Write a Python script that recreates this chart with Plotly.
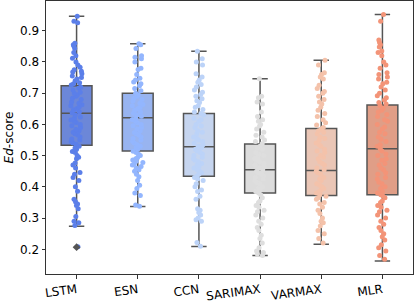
import plotly.graph_objects as go

categories = ["LSTM", "ESN", "CCN", "SARIMAX", "VARMAX", "MLR"]

# box statistics
q1 = [0.533, 0.515, 0.434, 0.380, 0.372, 0.375]
median = [0.636, 0.621, 0.528, 0.455, 0.452, 0.522]
q3 = [0.724, 0.700, 0.635, 0.537, 0.587, 0.662]
lower_whisker = [0.274, 0.337, 0.209, 0.180, 0.216, 0.163]
upper_whisker = [0.946, 0.858, 0.834, 0.746, 0.805, 0.952]
outlier_cat = ["LSTM"]
outlier_val = [0.207]

# individual scores (estimated from the strip points)
lstm_pts = [0.946, 0.93, 0.925, 0.86, 0.855, 0.85, 0.843, 0.83, 0.82, 0.812, 0.80, 0.79,
            0.783, 0.775, 0.77, 0.768, 0.762, 0.755, 0.75, 0.745, 0.74, 0.733, 0.73, 0.726,
            0.72, 0.716, 0.71, 0.703, 0.70, 0.694, 0.69, 0.684, 0.68, 0.672, 0.668, 0.663,
            0.66, 0.655, 0.65, 0.646, 0.64, 0.637, 0.63, 0.624, 0.62, 0.614, 0.61, 0.606,
            0.60, 0.596, 0.59, 0.584, 0.58, 0.575, 0.57, 0.566, 0.56, 0.553, 0.55, 0.545,
            0.54, 0.536, 0.53, 0.524, 0.52, 0.513, 0.51, 0.50, 0.495, 0.49, 0.476, 0.47,
            0.46, 0.446, 0.44, 0.43, 0.42, 0.40, 0.386, 0.36, 0.352, 0.345, 0.34, 0.33,
            0.305, 0.29, 0.285, 0.276, 0.208]
esn_pts = [0.858, 0.855, 0.843, 0.82, 0.815, 0.81, 0.80, 0.78, 0.776, 0.76, 0.748, 0.742,
           0.736, 0.73, 0.724, 0.715, 0.708, 0.70, 0.695, 0.69, 0.684, 0.68, 0.675, 0.668,
           0.664, 0.66, 0.654, 0.65, 0.645, 0.64, 0.636, 0.63, 0.626, 0.62, 0.616, 0.61,
           0.605, 0.60, 0.596, 0.59, 0.585, 0.58, 0.574, 0.57, 0.566, 0.56, 0.555, 0.55,
           0.546, 0.54, 0.535, 0.53, 0.525, 0.52, 0.514, 0.51, 0.505, 0.50, 0.494, 0.49,
           0.486, 0.482, 0.478, 0.474, 0.47, 0.465, 0.46, 0.455, 0.45, 0.44, 0.432, 0.42,
           0.405, 0.395, 0.38, 0.372, 0.342, 0.338]
ccn_pts = [0.834, 0.81, 0.80, 0.79, 0.762, 0.752, 0.742, 0.735, 0.728, 0.72, 0.71, 0.703,
           0.696, 0.69, 0.682, 0.676, 0.67, 0.66, 0.655, 0.648, 0.64, 0.635, 0.63, 0.62,
           0.615, 0.61, 0.60, 0.595, 0.59, 0.58, 0.575, 0.57, 0.56, 0.555, 0.55, 0.545,
           0.54, 0.535, 0.53, 0.525, 0.52, 0.515, 0.51, 0.505, 0.50, 0.495, 0.49, 0.485,
           0.48, 0.475, 0.47, 0.465, 0.46, 0.455, 0.45, 0.445, 0.44, 0.435, 0.43, 0.425,
           0.42, 0.41, 0.40, 0.39, 0.385, 0.37, 0.36, 0.33, 0.325, 0.318, 0.31, 0.30,
           0.295, 0.29, 0.222, 0.21]
sarimax_pts = [0.746, 0.69, 0.685, 0.672, 0.665, 0.64, 0.625, 0.615, 0.61, 0.60, 0.595,
               0.585, 0.575, 0.565, 0.56, 0.55, 0.545, 0.538, 0.53, 0.525, 0.52, 0.51,
               0.505, 0.50, 0.495, 0.49, 0.485, 0.48, 0.475, 0.47, 0.465, 0.46, 0.455,
               0.45, 0.445, 0.44, 0.435, 0.43, 0.425, 0.42, 0.415, 0.41, 0.40, 0.395,
               0.39, 0.385, 0.38, 0.375, 0.365, 0.355, 0.35, 0.34, 0.335, 0.325, 0.32,
               0.31, 0.30, 0.29, 0.28, 0.27, 0.26, 0.245, 0.235, 0.22, 0.205, 0.195,
               0.19, 0.185, 0.18]
varmax_pts = [0.805, 0.79, 0.765, 0.76, 0.752, 0.745, 0.725, 0.715, 0.705, 0.70, 0.69,
              0.68, 0.672, 0.665, 0.655, 0.645, 0.635, 0.625, 0.615, 0.605, 0.598, 0.59,
              0.585, 0.58, 0.575, 0.57, 0.56, 0.555, 0.55, 0.54, 0.535, 0.53, 0.52,
              0.515, 0.51, 0.50, 0.495, 0.49, 0.48, 0.475, 0.47, 0.46, 0.455, 0.45,
              0.445, 0.44, 0.43, 0.425, 0.42, 0.41, 0.405, 0.40, 0.395, 0.39, 0.385,
              0.38, 0.375, 0.37, 0.365, 0.36, 0.35, 0.345, 0.335, 0.325, 0.315, 0.30,
              0.29, 0.285, 0.275, 0.26, 0.25, 0.235, 0.22]
mlr_pts = [0.952, 0.93, 0.87, 0.862, 0.855, 0.848, 0.835, 0.83, 0.82, 0.80, 0.79, 0.78,
           0.765, 0.76, 0.752, 0.745, 0.735, 0.73, 0.72, 0.71, 0.70, 0.692, 0.685, 0.678,
           0.67, 0.665, 0.66, 0.652, 0.645, 0.64, 0.632, 0.625, 0.615, 0.61, 0.60, 0.592,
           0.585, 0.575, 0.57, 0.56, 0.552, 0.545, 0.535, 0.53, 0.522, 0.515, 0.505,
           0.50, 0.49, 0.485, 0.475, 0.47, 0.46, 0.455, 0.445, 0.44, 0.43, 0.425, 0.415,
           0.41, 0.40, 0.395, 0.385, 0.38, 0.375, 0.37, 0.365, 0.355, 0.35, 0.34, 0.335,
           0.325, 0.32, 0.31, 0.30, 0.29, 0.28, 0.27, 0.26, 0.25, 0.24, 0.23, 0.215,
           0.205, 0.195, 0.18, 0.168]
points = [lstm_pts, esn_pts, ccn_pts, sarimax_pts, varmax_pts, mlr_pts]

box_fill = ["#6c87d8", "#98b4f0", "#c6d5ef", "#dcdcdc", "#eac6b6", "#e09e87"]
point_color = ["#5b7fe9", "#93b6fe", "#bcd3f8", "#dedede", "#f4c2aa", "#f39478"]
edge = "#555555"

fig = go.Figure()
for i, c in enumerate(categories):
    fig.add_trace(go.Box(
        x=[c], q1=[q1[i]], median=[median[i]], q3=[q3[i]],
        lowerfence=[lower_whisker[i]], upperfence=[upper_whisker[i]],
        fillcolor=box_fill[i], line=dict(color=edge, width=1.5),
        whiskerwidth=0.5, boxpoints=False, showlegend=False, hoverinfo="skip"))

fig.add_trace(go.Scatter(
    x=outlier_cat, y=outlier_val, mode="markers",
    marker=dict(symbol="diamond", size=6, color=edge), showlegend=False))

for i, c in enumerate(categories):
    fig.add_trace(go.Box(
        x=[c] * len(points[i]), y=points[i], boxpoints="all", jitter=0.38, pointpos=0,
        fillcolor="rgba(0,0,0,0)", line=dict(width=0, color="rgba(0,0,0,0)"),
        marker=dict(color=point_color[i], size=5, opacity=1),
        showlegend=False))

fig.update_layout(
    width=415, height=303,
    margin=dict(l=46, r=2, t=1, b=29, autoexpand=False),
    paper_bgcolor="white", plot_bgcolor="white",
    boxmode="overlay", boxgap=0.28,
    font=dict(family="DejaVu Sans", size=12, color="black"),
)
fig.update_xaxes(
    type="category", categoryorder="array", categoryarray=categories,
    range=[-0.5, 5.5], showline=True, mirror=True, linecolor="#333333", linewidth=1,
    ticks="outside", ticklen=3.5, tickcolor="#333333", tickangle=-8,
    showgrid=False, zeroline=False, automargin=False, tickfont=dict(size=12))
fig.update_yaxes(
    range=[0.121, 0.995], tickvals=[0.2, 0.3, 0.4, 0.5, 0.6, 0.7, 0.8, 0.9],
    ticktext=["0.2", "0.3", "0.4", "0.5", "0.6", "0.7", "0.8", "0.9"],
    showline=True, mirror=True, linecolor="#333333", linewidth=1,
    ticks="outside", ticklen=3.5, tickcolor="#333333",
    showgrid=False, zeroline=False, automargin=False, tickfont=dict(size=12),
    title=dict(text="<i>Ed</i>-score", standoff=3, font=dict(size=12)))

fig.write_html("out.html", config={"displayModeBar": False},
               post_script="document.body.style.margin='0';document.body.style.overflow='hidden';")
